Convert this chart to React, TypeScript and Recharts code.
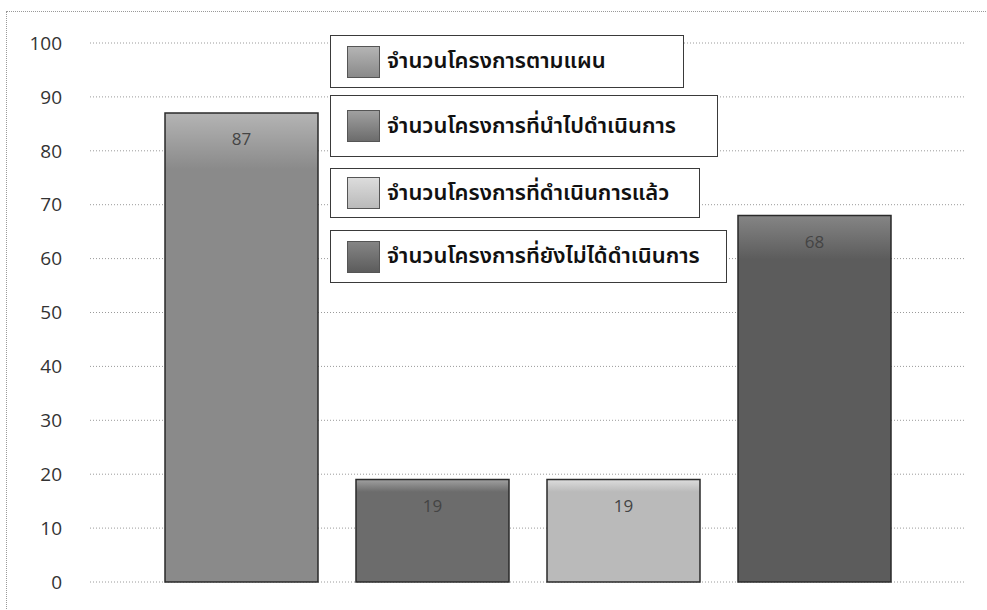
import React from 'react';
import { BarChart, Bar, XAxis, YAxis, CartesianGrid, LabelList, Legend } from 'recharts';

const seriesKeys = ['plan', 'implemented', 'done', 'notDone'];
const seriesNames = [
  'จำนวนโครงการตามแผน',
  'จำนวนโครงการที่นำไปดำเนินการ',
  'จำนวนโครงการที่ดำเนินการแล้ว',
  'จำนวนโครงการที่ยังไม่ได้ดำเนินการ',
];
const seriesValues = [87, 19, 19, 68];
const seriesColors = ['#8a8a8a', '#6c6c6c', '#bababa', '#5c5c5c'];
const seriesTopColors = ['#b4b4b4', '#a0a0a0', '#dcdcdc', '#858585'];
const yTicks = [0, 10, 20, 30, 40, 50, 60, 70, 80, 90, 100];

const data = [
  seriesKeys.reduce((acc: any, k, i) => {
    acc[k] = seriesValues[i];
    return acc;
  }, { name: '' } as any),
];

const legendBoxes = [
  { top: 35, width: 354, height: 53 },
  { top: 95, width: 388, height: 62 },
  { top: 168, width: 370, height: 50 },
  { top: 230, width: 397, height: 53 },
];

const thaiFont = '"Noto Sans Thai", "Noto Sans Thai UI", Tahoma, "Noto Sans", "DejaVu Sans", sans-serif';

const LegendContent = () => (
  <div style={{ position: 'relative', width: 0, height: 0 }}>
    {seriesNames.map((n, i) => (
      <div
        key={n}
        style={{
          position: 'absolute',
          left: 330,
          top: legendBoxes[i].top,
          width: legendBoxes[i].width,
          height: legendBoxes[i].height,
          boxSizing: 'border-box',
          border: '1.5px solid #3a3a3a',
          background: '#fff',
          display: 'flex',
          alignItems: 'center',
          paddingLeft: 16,
          whiteSpace: 'nowrap',
        }}
      >
        <div
          style={{
            width: 33,
            height: 32,
            background: `linear-gradient(${seriesTopColors[i]}, ${seriesColors[i]})`,
            border: '1px solid #555',
            boxSizing: 'border-box',
            marginRight: 7,
            flex: 'none',
          }}
        />
        <span style={{ fontFamily: thaiFont, fontSize: 22, fontWeight: 600, color: '#111' }}>{n}</span>
      </div>
    ))}
  </div>
);

export default function App() {
  return (
    <div style={{ position: 'absolute', left: 0, top: 0, width: 987, height: 610, background: '#fff' }}>
      <div
        style={{
          position: 'absolute',
          left: 6,
          top: 11,
          width: 990,
          height: 620,
          borderLeft: '1px dotted #999',
          borderTop: '1px dotted #999',
          boxSizing: 'border-box',
        }}
      />
      <BarChart
        width={987}
        height={610}
        data={data}
        margin={{ top: 43, right: 22, left: 0, bottom: 28 }}
        barGap={38}
        style={{ position: 'absolute', left: 0, top: 0 }}
      >
        <defs>
          {seriesKeys.map((k, i) => (
            <linearGradient key={k} id={`grad-${k}`} x1="0" y1="0" x2="0" y2="1">
              <stop offset="0%" stopColor={seriesTopColors[i]} />
              <stop offset="12%" stopColor={seriesColors[i]} />
              <stop offset="100%" stopColor={seriesColors[i]} />
            </linearGradient>
          ))}
        </defs>
        <CartesianGrid vertical={false} stroke="#9a9a9a" strokeDasharray="1 2" />
        <XAxis dataKey="name" hide />
        <YAxis
          domain={[0, 100]}
          ticks={yTicks}
          width={90}
          axisLine={false}
          tickLine={false}
          tickMargin={22}
          tick={{ fill: '#333', fontSize: 19, fontFamily: '"Open Sans", sans-serif' }}
        />
        <Legend
          content={<LegendContent />}
          wrapperStyle={{ position: 'absolute', left: 0, top: 0, width: 0, height: 0, overflow: 'visible' }}
        />
        {seriesKeys.map((k, i) => (
          <Bar
            key={k}
            dataKey={k}
            name={seriesNames[i]}
            fill={`url(#grad-${k})`}
            stroke="#2a2a2a"
            strokeWidth={1.5}
            barSize={153}
            isAnimationActive={false}
          >
            <LabelList
              dataKey={k}
              position="insideTop"
              offset={20}
              fill="#444"
              fontSize={17}
              fontFamily='"Open Sans", sans-serif'
            />
          </Bar>
        ))}
      </BarChart>
    </div>
  );
}
